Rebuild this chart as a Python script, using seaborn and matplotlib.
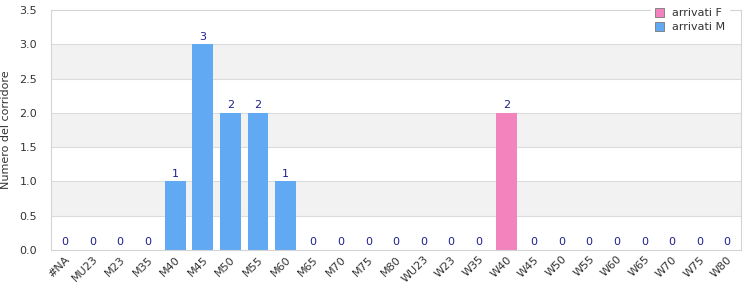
import matplotlib
matplotlib.use("Agg")
import matplotlib.pyplot as plt
import seaborn as sns
import pandas as pd
from matplotlib.patches import Patch

categories = ["#NA", "MU23", "M23", "M35", "M40", "M45", "M50", "M55", "M60", "M65",
              "M70", "M75", "M80", "WU23", "W23", "W35", "W40", "W45", "W50", "W55",
              "W60", "W65", "W70", "W75", "W80"]
arrivati_F = [0, 0, 0, 0, 0, 0, 0, 0, 0, 0, 0, 0, 0, 0, 0, 0, 2, 0, 0, 0, 0, 0, 0, 0, 0]
arrivati_M = [0, 0, 0, 0, 1, 3, 2, 2, 1, 0, 0, 0, 0, 0, 0, 0, 0, 0, 0, 0, 0, 0, 0, 0, 0]

col_F = "#f283bc"
col_M = "#62a9f3"

sns.set_style("white")
plt.rcParams['font.family'] = ['DejaVu Sans']

fig = plt.figure(figsize=(7.5, 3), dpi=100)
ax = fig.add_axes([0.068, 0.1667, 0.92, 0.8])

for lo in (0.5, 1.5, 2.5):
    ax.axhspan(lo, lo + 0.5, color="#f2f2f2", zorder=0, lw=0)
for y in [0.5, 1.0, 1.5, 2.0, 2.5, 3.0]:
    ax.axhline(y, color="#dcdcdc", lw=0.8, zorder=0.5)

df_M = pd.DataFrame({"cat": categories, "val": arrivati_M})
df_F = pd.DataFrame({"cat": categories, "val": arrivati_F})
sns.barplot(data=df_M, x="cat", y="val", color=col_M, saturation=1, width=0.75, ax=ax,
            zorder=2, linewidth=0, edgecolor="none")
sns.barplot(data=df_F, x="cat", y="val", color=col_F, saturation=1, width=0.75, ax=ax,
            bottom=arrivati_M, zorder=2, linewidth=0, edgecolor="none")

totals = [f + m for f, m in zip(arrivati_F, arrivati_M)]
for i, t in enumerate(totals):
    ax.text(i, t + 0.04, str(t), ha="center", va="bottom", fontsize=8, color="#1f1f8f", zorder=3)

ax.set_xlim(-0.5, len(categories) - 0.5)
ax.set_ylim(0, 3.5)
ax.set_yticks([0, 0.5, 1.0, 1.5, 2.0, 2.5, 3.0, 3.5])
ax.set_yticklabels(["0.0", "0.5", "1.0", "1.5", "2.0", "2.5", "3.0", "3.5"])
ax.set_xlabel("")
ax.set_ylabel("Numero del corridore", fontsize=8, color="#333333", labelpad=6)
ax.tick_params(axis="y", labelsize=8, colors="#333333", length=0, pad=10)
ax.tick_params(axis="x", labelsize=8, colors="#333333", length=0, pad=3)
for lab in ax.get_xticklabels():
    lab.set_rotation(45)
    lab.set_ha("right")
    lab.set_rotation_mode("anchor")

for s in ax.spines.values():
    s.set_color("#d4d4d4")
    s.set_linewidth(0.8)

handles = [Patch(facecolor=col_F, edgecolor="#777777", lw=0.6, label="arrivati F"),
           Patch(facecolor=col_M, edgecolor="#777777", lw=0.6, label="arrivati M")]
leg = ax.legend(handles=handles, loc="upper left", bbox_to_anchor=(0.862, 1.045),
                fontsize=8, frameon=True, facecolor="white", edgecolor="white",
                framealpha=1, handlelength=0.8, handleheight=0.8, handletextpad=0.8,
                labelspacing=0.35, borderpad=0.3, fancybox=False)
leg.set_zorder(5)
for t in leg.get_texts():
    t.set_color("#333333")

fig.savefig("out.png", dpi=100)
